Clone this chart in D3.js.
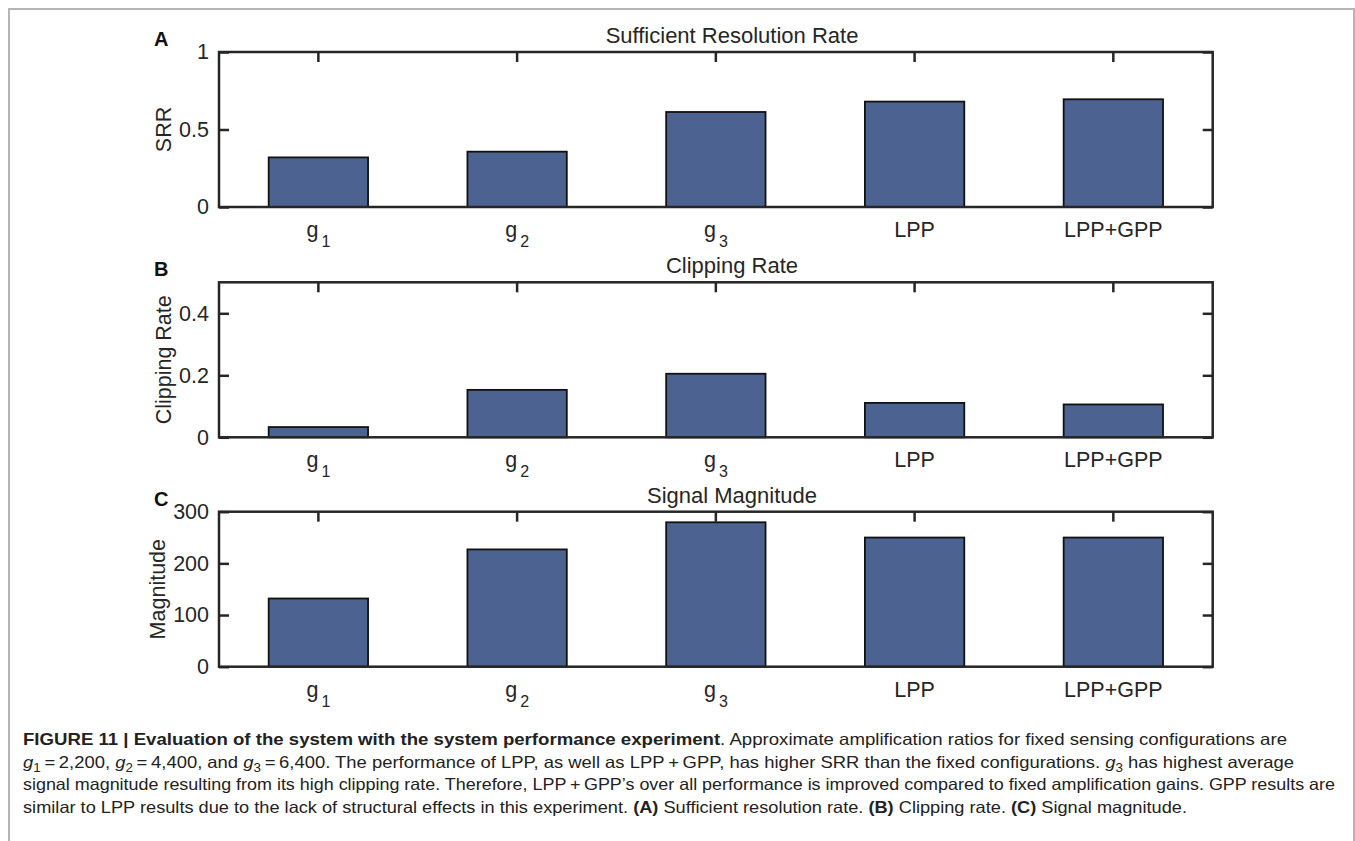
<!DOCTYPE html>
<html>
<head>
<meta charset="utf-8">
<script src="https://cdn.jsdelivr.net/npm/d3@7"></script>
<style>
  body { margin: 0; background: #fff; }
  svg { display: block; font-family: "Liberation Sans", Arial, Helvetica, sans-serif; }
</style>
</head>
<body>
<script>
'use strict';

const categories = ['g_1', 'g_2', 'g_3', 'LPP', 'LPP+GPP']

const srrValues = [0.32, 0.357, 0.613, 0.68, 0.695]
const clipValues = [0.033, 0.153, 0.205, 0.111, 0.106]
const magValues = [132, 227, 279.5, 250, 250]

const srrTicks = [0, 0.5, 1]
const clipTicks = [0, 0.2, 0.4]
const magTicks = [0, 100, 200, 300]

const panelTitles = ['Sufficient Resolution Rate', 'Clipping Rate', 'Signal Magnitude']
const panelYLabels = ['SRR', 'Clipping Rate', 'Magnitude']
const panelLetters = ['A', 'B', 'C']

const m = {
  width: 1355,
  height: 841,
  left: 219,
  right: 1212.7,
  plotH: 155,
  titleX: 732
}

const ink = '#262626'
const barFill = '#4c6391'
const fontSize = '21.5px'

let svg = d3.select('body')
  .append('svg')
  .attr('width', m.width)
  .attr('height', m.height)

// figure frame
svg.append('path')
  .attr('d', 'M9,900V9H1354V900')
  .attr('fill', 'none')
  .attr('stroke', '#b5b5b5')
  .attr('stroke-width', 2)

let xScale = d3.scaleBand()
  .domain(categories)
  .range([m.left, m.right])
  .paddingInner(0.5)
  .paddingOuter(0.25)

drawPanel({top: 52, values: srrValues, ticks: srrTicks, max: 1, labelX: 171}, 0)
drawPanel({top: 282.3, values: clipValues, ticks: clipTicks, max: 0.5, labelX: 171}, 1)
drawPanel({top: 511.7, values: magValues, ticks: magTicks, max: 300, labelX: 165}, 2)

drawCaption()


function drawPanel(p, idx) {
  let bottom = p.top + m.plotH
  let yScale = d3.scaleLinear()
    .domain([0, p.max])
    .range([bottom, p.top])

  let rows = categories.map((c, i) => ({cat: c, val: p.values[i]}))

  svg.append('g')
    .selectAll('rect')
    .data(rows)
    .enter()
    .append('rect')
      .attr('x', d => xScale(d.cat))
      .attr('y', d => yScale(d.val))
      .attr('width', xScale.bandwidth())
      .attr('height', d => bottom - yScale(d.val))
      .style('fill', barFill)
      .style('stroke', '#111')
      .style('stroke-width', 1.8)

  // left axis, ticks pointing inward
  let yAxis = d3.axisLeft(yScale).tickValues(p.ticks).tickSize(-10).tickPadding(10)
    .tickFormat(d3.format('~g'))
  let gl = svg.append('g')
    .attr('transform', 'translate(' + m.left + ',0)')
    .call(yAxis)
  styleAxis(gl)

  let yAxisR = d3.axisRight(yScale).tickValues(p.ticks).tickSize(-10).tickFormat('')
  let gr = svg.append('g')
    .attr('transform', 'translate(' + m.right + ',0)')
    .call(yAxisR)
  styleAxis(gr)

  let xTop = d3.axisTop(xScale).tickSize(-10).tickFormat('')
  let gt = svg.append('g')
    .attr('transform', 'translate(0,' + p.top + ')')
    .call(xTop)
  styleAxis(gt)

  let xBottom = d3.axisBottom(xScale).tickSize(0)
  let gb = svg.append('g')
    .attr('transform', 'translate(0,' + bottom + ')')
    .call(xBottom)
  styleAxis(gb)
  gb.selectAll('.tick text')
    .attr('y', 30)
    .attr('dy', null)
    .each(function(d) {
      let t = d3.select(this)
      let parts = d.split('_')
      t.text(parts[0])
      if (parts.length > 1) {
        t.append('tspan')
          .attr('dx', 3)
          .attr('dy', 10)
          .style('font-size', '16px')
          .text(parts[1])
      }
    })

  svg.append('rect')
    .attr('x', m.left)
    .attr('y', p.top)
    .attr('width', m.right - m.left)
    .attr('height', m.plotH)
    .attr('fill', 'none')
    .attr('stroke', ink)
    .attr('stroke-width', 2.5)

  svg.append('text')
    .attr('x', m.titleX)
    .attr('y', p.top - 9)
    .attr('text-anchor', 'middle')
    .style('font-size', '22px')
    .style('fill', ink)
    .text(panelTitles[idx])

  svg.append('text')
    .attr('transform', 'translate(' + p.labelX + ',' + (p.top + m.plotH / 2) + ')rotate(-90)')
    .attr('text-anchor', 'middle')
    .style('font-size', fontSize)
    .style('fill', ink)
    .text(panelYLabels[idx])

  svg.append('text')
    .attr('x', 154)
    .attr('y', p.top - 6)
    .style('font-size', '20px')
    .style('font-weight', 'bold')
    .style('fill', '#111')
    .text(panelLetters[idx])
}

function styleAxis(g) {
  g.select('.domain').remove()
  g.selectAll('.tick line')
    .attr('stroke', ink)
    .attr('stroke-width', 2.5)
  g.selectAll('.tick text')
    .style('font-size', fontSize)
    .style('font-family', '"Liberation Sans", Arial, sans-serif')
    .attr('fill', ink)
}

function drawCaption() {
  let cap = svg.append('g')
    .style('font-size', '16.5px')
    .style('fill', '#222')

  // line 1
  let l1 = cap.append('text').attr('x', 23).attr('y', 745)
    .attr('textLength', 1264).attr('lengthAdjust', 'spacingAndGlyphs')
  l1.append('tspan').style('font-weight', 'bold')
    .text('FIGURE 11 | Evaluation of the system with the system performance experiment')
  l1.append('tspan')
    .text('. Approximate amplification ratios for fixed sensing configurations are')

  // line 2
  let l2 = cap.append('text').attr('x', 23).attr('y', 767.5)
    .attr('textLength', 1271).attr('lengthAdjust', 'spacingAndGlyphs')
  let gSub = function(n, after) {
    l2.append('tspan').style('font-style', 'italic').text('g')
    l2.append('tspan').attr('dy', 4).style('font-size', '12px').text(n)
    l2.append('tspan').attr('dy', -4).text(after)
  }
  gSub('1', '\u2009=\u20092,200, ')
  gSub('2', '\u2009=\u20094,400, and ')
  gSub('3', '\u2009=\u20096,400. The performance of LPP, as well as LPP\u2009+\u2009GPP, has higher SRR than the fixed configurations. ')
  gSub('3', ' has highest average')

  // line 3
  cap.append('text').attr('x', 23).attr('y', 790)
    .attr('textLength', 1312).attr('lengthAdjust', 'spacingAndGlyphs')
    .text('signal magnitude resulting from its high clipping rate. Therefore, LPP\u2009+\u2009GPP\u2019s over all performance is improved compared to fixed amplification gains. GPP results are')

  // line 4
  let l4 = cap.append('text').attr('x', 23).attr('y', 812.5)
    .attr('textLength', 1164).attr('lengthAdjust', 'spacingAndGlyphs')
  l4.append('tspan').text('similar to LPP results due to the lack of structural effects in this experiment. ')
  l4.append('tspan').style('font-weight', 'bold').text('(A)')
  l4.append('tspan').text(' Sufficient resolution rate. ')
  l4.append('tspan').style('font-weight', 'bold').text('(B)')
  l4.append('tspan').text(' Clipping rate. ')
  l4.append('tspan').style('font-weight', 'bold').text('(C)')
  l4.append('tspan').text(' Signal magnitude.')
}
</script>
</body>
</html>
